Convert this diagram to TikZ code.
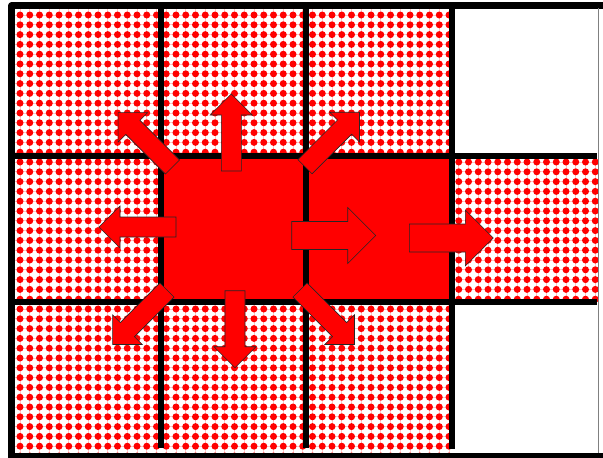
\documentclass[tikz,border=0pt]{standalone}
\definecolor{pptred}{RGB}{255,0,0}
\definecolor{dotpink}{RGB}{255,195,195}
\tikzset{
  gridline/.style={line width=6pt, draw=black},
  frameline/.style={line width=6.5pt, draw=black, line join=round},
  arrowbox/.style={fill=pptred, draw=black!85, line width=0.6pt, line join=miter},
  redcell/.style={fill=pptred},
  smallarrow/.pic={\draw[arrowbox] (0,-10) -- (56,-10) -- (56,-21) -- (77,0) -- (56,21) -- (56,10) -- (0,10) -- cycle;},
  bigarrow/.pic={\draw[arrowbox] (0,-14) -- (56,-14) -- (56,-28) -- (84,0) -- (56,28) -- (56,14) -- (0,14) -- cycle;}
}
\begin{document}
\begin{tikzpicture}[x=1pt,y=-1pt]
\useasboundingbox (0,0) rectangle (603,458);
\fill[white] (0,0) rectangle (603,458);
% dotted pattern cells
\begin{scope}
  \clip (12,5.5) rectangle (452,156) (12,302) rectangle (452,456) (12,156) rectangle (161,302) (452,156) rectangle (598,302);
  \foreach \i in {0,...,60} \draw[dotpink, line width=0.8pt] (20+9.75*\i,0) -- ++(0,460);
  \foreach \j in {0,...,46} \draw[dotpink, line width=0.8pt] (0,15+9.8*\j) -- ++(605,0);
  \foreach \i in {0,...,60} {\foreach \j in {0,...,46} {\fill[pptred] (20+9.75*\i,15+9.8*\j) circle (3.5pt);}}
\end{scope}
% solid red cells
\fill[redcell] (161,156) rectangle (452,302);
% grid lines
\draw[gridline] (161,8) -- (161,448);
\draw[gridline] (306,8) -- (306,448);
\draw[gridline] (452,8) -- (452,449);
\draw[gridline] (15,156) -- (597,156);
\draw[gridline] (15,302) -- (597,302);
% outer frame
\draw[frameline] (11.7,456) -- (11.7,5.5) -- (603,5.5);
\draw[frameline] (8,456) -- (603,456);
\draw[gray, line width=0.8pt] (598,8) -- (598,453);
% arrows
\path (231.3,171) pic[rotate=90] {smallarrow};
\path (172.5,167) pic[rotate=135] {smallarrow};
\path (176,227) pic[rotate=180] {smallarrow};
\path (167,290) pic[rotate=225] {smallarrow};
\path (235,290.7) pic[rotate=270] {smallarrow};
\path (300,290) pic[rotate=315] {smallarrow};
\path (305,166.7) pic[rotate=45] {smallarrow};
\path (291.7,235.5) pic {bigarrow};
\path (409.3,238) pic {bigarrow};
\end{tikzpicture}
\end{document}
